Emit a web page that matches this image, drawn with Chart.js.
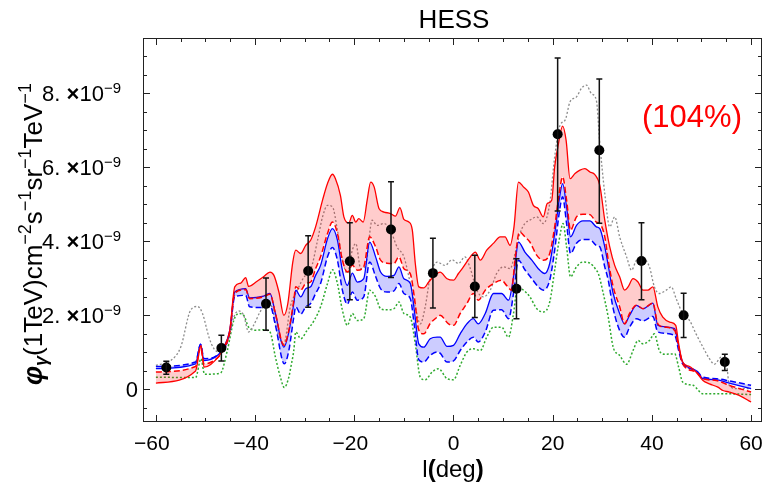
<!DOCTYPE html>
<html>
<head>
<meta charset="utf-8">
<script src="https://cdn.jsdelivr.net/npm/chart.js@4.4.1/dist/chart.umd.min.js"></script>
<style>
  html, body { margin: 0; padding: 0; background: #fff; }
  #wrap { width: 770px; height: 491px; }
</style>
</head>
<body>
<div id="wrap"><canvas id="chartHess" width="770" height="491"></canvas></div>
<script>
// longitude l (deg), flux in units of 1e-9
const redSolid = [[-60,0.17],[-52,0.5],[-50.9,1.19],[-50.3,0.6],[-47.3,0.9],[-46.3,1.14],[-45.1,1.6],[-44.1,2.77],[-42.9,2.87],[-41.9,3.02],[-41.3,2.78],[-39.6,2.92],[-38.3,3.04],[-37.0,3.17],[-36.2,3.08],[-35.2,2.63],[-34.2,2.0],[-33.4,2.32],[-32.4,3.44],[-31.8,3.76],[-30.8,3.67],[-29.8,3.89],[-28.8,4.03],[-27.8,4.39],[-26.4,5.11],[-25.4,5.56],[-24.4,5.81],[-23.8,5.69],[-22.8,5.24],[-22.1,4.66],[-21.1,4.5],[-20.4,4.7],[-19.7,4.52],[-19.1,4.61],[-18.2,4.52],[-17.4,5.11],[-16.7,5.6],[-16.0,5.47],[-15.0,4.88],[-14.0,4.79],[-12.7,4.75],[-11.7,4.68],[-10.8,4.91],[-10.0,4.59],[-9.0,4.52],[-8.3,4.3],[-7.7,3.4],[-7.0,2.77],[-6.0,2.74],[-5.0,2.9],[-4.0,3.05],[-2.7,3.17],[-1.3,2.99],[0,2.95],[1.0,3.13],[2.0,3.31],[3.4,3.58],[4.4,3.71],[5.4,3.49],[6.7,3.76],[8.1,3.95],[9.4,4.12],[10.4,4.12],[11.4,3.89],[12.2,4.39],[13.1,5.6],[14.1,5.47],[15.1,5.33],[16.1,4.97],[17.1,4.88],[18.1,4.66],[18.9,5.02],[19.8,5.11],[20.4,6.01],[21.1,6.59],[22.0,7.11],[22.7,6.73],[23.5,5.69],[24.5,5.83],[25.5,5.92],[26.5,5.96],[27.5,5.87],[28.5,5.8],[29.5,5.51],[30.5,4.57],[31.5,3.85],[32.5,3.35],[33.5,3.04],[34.5,2.68],[35.2,2.77],[36.2,2.99],[37.2,2.9],[38.2,2.68],[39.2,2.68],[40.2,2.77],[41.2,2.23],[42.2,1.95],[43.6,1.82],[44.8,1.73],[45.4,1.23],[46.2,0.74],[47.6,0.62],[48.9,0.47],[50.3,0.24],[51.6,0.15],[53.3,0.06],[54.3,-0.03],[55.6,-0.07],[57.6,-0.16],[60,-0.34]];

const redDashed = [[-60,0.47],[-52,0.62],[-51,1.14],[-50.3,0.69],[-47.3,0.89],[-46.3,1.1],[-45.1,1.55],[-44.1,2.6],[-41.9,2.69],[-41.1,2.45],[-38.3,2.5],[-37.0,2.57],[-35.9,2.05],[-34.2,1.19],[-33.2,1.6],[-32.2,2.4],[-31.8,2.77],[-30.8,2.68],[-29.8,2.86],[-28.8,2.9],[-27.8,3.26],[-26.8,3.58],[-25.4,4.21],[-24.4,4.52],[-23.4,4.21],[-22.4,3.49],[-21.4,3.17],[-20.4,3.35],[-19.4,3.22],[-18.1,3.31],[-16.9,4.12],[-15.7,3.85],[-14.7,3.49],[-13.4,3.41],[-12.0,3.4],[-11.0,3.58],[-10.0,3.26],[-8.7,3.12],[-7.9,2.5],[-7.0,1.6],[-6.0,1.5],[-4.7,1.78],[-3.3,1.95],[-2.7,2.0],[-1.0,1.77],[0,1.73],[1.35,2.05],[2.7,2.32],[4.0,2.59],[5.0,2.41],[6.4,2.68],[8.05,2.86],[9.7,2.95],[10.7,2.81],[11.7,2.68],[12.4,3.49],[13.3,4.25],[14.4,4.12],[15.4,3.98],[16.8,3.62],[18.1,3.49],[19.4,3.67],[20.4,4.39],[21.3,5.29],[22.0,5.74],[22.8,5.11],[23.6,4.3],[24.8,4.66],[26.1,4.73],[27.5,4.72],[28.8,4.52],[29.5,4.48],[30.5,4.12],[31.2,3.49],[32.2,2.77],[33.5,2.23],[34.5,1.77],[35.5,2.05],[36.9,2.27],[38.2,2.18],[40.2,2.33],[41.2,1.77],[42.6,1.68],[44.6,1.59],[45.4,1.14],[46.2,0.69],[48.9,0.47],[50.3,0.29],[53.0,0.24],[55.6,0.11],[60,-0.07]];

const blueSolid = [[-60,0.56],[-52,0.69],[-51,1.22],[-50.3,0.78],[-47.3,0.95],[-46.3,1.14],[-45.1,1.6],[-44.1,2.63],[-41.9,2.72],[-41.1,2.47],[-38.3,2.52],[-37.0,2.59],[-35.9,2.05],[-34.2,1.14],[-33.2,1.55],[-32.2,2.32],[-31.8,2.68],[-30.8,2.5],[-29.8,2.72],[-28.8,2.77],[-27.8,3.08],[-26.8,3.35],[-25.4,4.07],[-24.4,4.34],[-23.4,4.03],[-22.4,3.22],[-21.4,2.81],[-20.4,3.14],[-19.4,2.9],[-18.1,2.99],[-16.9,3.98],[-15.7,3.58],[-14.7,3.17],[-13.4,3.05],[-12.0,3.08],[-11.0,3.31],[-10.0,2.99],[-8.7,2.86],[-7.9,2.14],[-7.0,1.23],[-6.0,1.14],[-4.7,1.37],[-3.3,1.41],[-2.7,1.41],[-1.3,1.16],[0,1.19],[1.35,1.5],[2.7,1.77],[4.0,1.91],[5.0,1.77],[6.4,2.05],[8.05,2.59],[9.7,2.59],[11.1,2.41],[12.2,3.13],[13.1,3.98],[14.4,3.71],[15.8,3.49],[17.1,3.26],[18.4,3.13],[19.4,3.4],[20.4,4.21],[21.3,5.11],[22.0,5.56],[22.8,4.93],[23.6,4.12],[24.8,4.43],[26.1,4.55],[27.5,4.55],[28.8,4.39],[29.5,4.34],[30.5,3.85],[31.2,3.35],[32.2,2.59],[33.5,2.05],[34.5,1.77],[35.5,2.0],[36.9,2.27],[38.2,2.18],[40.2,2.33],[41.2,1.73],[44.6,1.64],[45.4,1.14],[46.2,0.74],[48.9,0.51],[50.3,0.29],[53.0,0.26],[55.6,0.17],[60,0.02]];

const blueDashed = [[-60,0.62],[-52,0.74],[-51,1.22],[-50.3,0.83],[-47.3,0.96],[-45.1,1.55],[-44.1,2.51],[-41.9,2.54],[-41.1,2.23],[-38.3,2.21],[-37.0,2.27],[-35.9,1.73],[-34.1,0.69],[-33.2,1.05],[-32.2,1.95],[-31.8,2.23],[-30.8,2.03],[-29.8,2.23],[-28.8,2.32],[-27.8,2.59],[-26.8,2.86],[-25.4,3.58],[-24.4,3.83],[-23.4,3.49],[-22.4,2.68],[-21.4,2.3],[-20.4,2.63],[-19.4,2.41],[-18.1,2.5],[-16.9,3.44],[-15.7,3.05],[-14.7,2.72],[-13.4,2.63],[-12.0,2.66],[-11.0,2.86],[-10.0,2.59],[-8.7,2.45],[-7.9,1.73],[-7.0,0.8],[-6.0,0.74],[-4.7,0.92],[-3.3,1.01],[-2.7,0.98],[-1.3,0.74],[0,0.77],[1.35,1.05],[2.7,1.28],[4.0,1.41],[5.0,1.28],[6.4,1.55],[8.05,2.14],[9.7,2.15],[11.1,1.91],[12.2,2.68],[13.1,3.49],[14.4,3.23],[15.8,2.99],[17.1,2.77],[18.1,2.68],[19.4,2.95],[20.4,3.76],[21.3,4.75],[22.0,5.2],[22.8,4.48],[23.6,3.67],[24.8,3.95],[26.1,4.05],[27.5,4.05],[28.8,3.89],[29.5,3.85],[30.5,3.31],[31.2,2.95],[32.2,2.18],[33.5,1.59],[34.5,1.41],[35.5,1.68],[36.9,1.91],[38.2,1.85],[40.2,1.97],[41.2,1.55],[44.6,1.46],[45.4,1.05],[46.2,0.69],[48.9,0.51],[50.3,0.33],[53.0,0.29],[55.6,0.23],[60,0.11]];

const grayDotted = [[-60,0.65],[-57,0.78],[-55,1.14],[-53,2.14],[-51.6,2.24],[-50.6,2.05],[-49.3,1.41],[-48.3,1.1],[-47,1.01],[-45.6,1.23],[-44.3,1.95],[-43.3,2.12],[-42.3,2.0],[-41.3,1.55],[-40.3,1.73],[-39,2.09],[-37.7,2.32],[-36.6,2.23],[-35.6,1.6],[-34.2,1.23],[-32.9,2.23],[-31.5,2.68],[-30.1,3.04],[-28.8,3.22],[-27.4,4.03],[-26.4,4.66],[-25.4,4.97],[-24.4,4.93],[-23.4,4.3],[-22.4,3.49],[-21.4,3.13],[-20.4,3.76],[-19.7,3.94],[-18.7,3.26],[-17.7,3.35],[-16.4,4.57],[-15.4,4.43],[-14.0,4.48],[-12.7,4.3],[-11.4,3.85],[-10.0,3.58],[-8.7,2.86],[-7.7,2.23],[-6.7,1.77],[-5.7,2.23],[-4.7,3.04],[-3.3,3.44],[-1.7,3.35],[-0.3,3.5],[1.0,3.4],[2.3,3.58],[3.4,3.26],[4.7,2.68],[6.0,2.5],[7.4,2.68],[8.7,3.13],[10.1,3.31],[11.4,3.26],[12.4,3.67],[13.4,4.21],[14.4,4.48],[15.4,4.57],[16.8,4.66],[18.1,4.48],[19.4,5.02],[20.4,6.28],[21.5,7.14],[22.5,7.27],[23.5,7.77],[24.8,7.9],[25.8,8.13],[26.8,8.22],[27.8,7.99],[28.8,7.81],[29.5,6.64],[30.5,5.29],[31.5,4.39],[32.5,4.66],[33.5,4.12],[34.9,3.58],[35.9,3.22],[36.9,3.49],[38.2,3.53],[39.5,3.31],[40.5,2.77],[41.5,2.59],[42.9,2.68],[43.9,2.77],[44.9,2.45],[46.2,2.05],[47.6,1.86],[48.9,1.5],[50.3,1.14],[51.6,0.83],[52.6,0.68],[54.0,0.87],[55.0,0.74],[55.6,0.11],[57.0,0.02],[60,0.02]];

const greenDotted = [[-60,0.33],[-52,0.32],[-50.9,0.83],[-50.2,0.41],[-47.0,0.44],[-45.6,1.05],[-44.3,1.86],[-43.3,2.05],[-42.3,2.0],[-41.3,1.68],[-39.9,1.6],[-38.3,1.61],[-37.0,1.55],[-35.9,0.87],[-34.9,0.33],[-34.1,0.05],[-33.2,0.33],[-32.8,0.6],[-32.2,1.05],[-31.8,1.55],[-30.8,1.37],[-29.5,1.6],[-28.1,1.86],[-26.8,2.23],[-25.4,2.86],[-24.4,3.23],[-23.4,2.86],[-22.4,2.14],[-21.4,1.73],[-20.4,2.05],[-19.4,1.86],[-18.1,1.91],[-16.9,2.68],[-15.7,2.5],[-14.7,2.18],[-13.4,2.15],[-12.0,2.18],[-11.0,2.36],[-10.0,2.05],[-8.7,1.95],[-7.7,1.23],[-6.7,0.33],[-5.7,0.26],[-4.3,0.47],[-3.0,0.56],[-1.3,0.29],[0,0.26],[1.35,0.65],[2.7,1.01],[4.0,1.1],[5.4,1.05],[6.7,1.41],[8.05,1.68],[9.7,1.68],[11.1,1.41],[12.1,2.05],[12.9,2.77],[14.1,2.68],[15.4,2.5],[16.8,2.18],[18.1,2.09],[19.4,2.36],[20.4,3.22],[21.3,4.03],[22.1,4.48],[22.8,3.85],[23.6,3.04],[24.8,3.31],[26.1,3.44],[27.5,3.41],[28.8,3.22],[29.2,3.13],[30.2,2.59],[31.2,1.95],[32.2,1.14],[33.5,0.92],[34.9,0.68],[36.2,1.05],[37.2,1.32],[38.2,1.23],[39.5,1.32],[40.5,1.5],[41.5,1.05],[42.6,0.95],[44.6,0.96],[45.4,0.6],[46.2,0.2],[48.3,0.11],[50.3,-0.12],[53.0,-0.12],[55.6,-0.12],[60,-0.14]];

// HESS points with error bars
const pointsL = [-57.9, -46.8, -37.8, -29.3, -20.9, -12.6, -4.15, 4.3, 12.7, 21.0, 29.4, 37.9, 46.4, 54.7];
const pointsFlux = [0.59, 1.12, 2.31, 3.2, 3.46, 4.32, 3.14, 2.78, 2.72, 6.89, 6.46, 3.47, 2.0, 0.74];
const errHigh = [0.76, 1.46, 3.01, 4.15, 4.5, 5.61, 4.08, 3.62, 3.53, 8.95, 8.38, 4.5, 2.6, 0.95];
const errLow = [0.41, 0.77, 1.6, 2.22, 2.42, 3.02, 2.2, 1.94, 1.91, 4.82, 4.49, 2.42, 1.4, 0.51];

// axes
const xTickLabels = [-60, -40, -20, 0, 20, 40, 60];
const yTickLabels = [0, 2, 4, 6, 8];

const FONT = "'Liberation Sans', Arial, sans-serif";

function xy(arr) {
    return arr.map(p => ({ x: p[0], y: p[1] }));
}

// texte en plusieurs morceaux (exposants, gras...)
function drawRuns(ctx, runs, x, y, align) {
    let total = 0;
    runs.forEach(r => { ctx.font = r.font; r.w = ctx.measureText(r.t).width; total += r.w; });
    let cx = align === 'right' ? x - total : (align === 'center' ? x - total / 2 : x);
    ctx.textAlign = 'left';
    ctx.textBaseline = 'alphabetic';
    runs.forEach(r => {
        ctx.font = r.font;
        ctx.fillText(r.t, cx, y - (r.dy || 0));
        cx += r.w;
    });
}

// barres d'erreur
const errorBars = {
    id: 'errorBars',
    afterDatasetsDraw(chart) {
        const ctx = chart.ctx, xs = chart.scales.x, ys = chart.scales.y;
        ctx.save();
        ctx.strokeStyle = '#111';
        ctx.lineWidth = 1.5;
        pointsL.forEach((l, i) => {
            const px = xs.getPixelForValue(l);
            const top = ys.getPixelForValue(errHigh[i]);
            const bot = ys.getPixelForValue(errLow[i]);
            ctx.beginPath();
            ctx.moveTo(px, top); ctx.lineTo(px, bot);
            ctx.moveTo(px - 3, top); ctx.lineTo(px + 3, top);
            ctx.moveTo(px - 3, bot); ctx.lineTo(px + 3, bot);
            ctx.stroke();
        });
        ctx.restore();
    }
};

// cadre, graduations et textes
const frameAndText = {
    id: 'frameAndText',
    afterDraw(chart) {
        const ctx = chart.ctx, a = chart.chartArea;
        const xs = chart.scales.x, ys = chart.scales.y;
        ctx.save();
        ctx.strokeStyle = '#222';
        ctx.lineWidth = 1;
        ctx.strokeRect(a.left + 0.5, a.top + 0.5, a.right - a.left - 1, a.bottom - a.top - 1);

        ctx.beginPath();
        for (let v = -60; v <= 60; v += 5) {
            const px = Math.round(xs.getPixelForValue(v)) + 0.5;
            const len = v % 20 === 0 ? 7 : 4;
            ctx.moveTo(px, a.bottom); ctx.lineTo(px, a.bottom - len);
            ctx.moveTo(px, a.top); ctx.lineTo(px, a.top + len);
        }
        for (let k = -1; k <= 18; k++) {
            const v = k * 0.5;
            const py = Math.round(ys.getPixelForValue(v)) + 0.5;
            const len = k % 4 === 0 ? 7 : 4;
            ctx.moveTo(a.left, py); ctx.lineTo(a.left + len, py);
            ctx.moveTo(a.right, py); ctx.lineTo(a.right - len, py);
        }
        ctx.stroke();

        ctx.fillStyle = '#000';
        // x tick labels
        xTickLabels.forEach(v => {
            const px = xs.getPixelForValue(v);
            const txt = (v < 0 ? '\u2212' : '') + Math.abs(v);
            ctx.font = '21px ' + FONT;
            ctx.textAlign = 'center';
            ctx.textBaseline = 'alphabetic';
            ctx.fillText(txt, px - (v < 0 ? 4 : 0), 450);
        });
        // y tick labels
        yTickLabels.forEach(v => {
            const py = ys.getPixelForValue(v);
            if (v === 0) {
                drawRuns(ctx, [{ t: '0', font: '22px ' + FONT }], 138, py + 8, 'right');
            } else {
                drawRuns(ctx, [
                    { t: v + '. ', font: '22px ' + FONT },
                    { t: '\u00d7', font: 'bold 22px ' + FONT },
                    { t: '10', font: '22px ' + FONT },
                    { t: '\u22129', font: '15px ' + FONT, dy: 8 }
                ], 121, py + 8, 'right');
            }
        });

        // titre
        ctx.font = '26px ' + FONT;
        ctx.textAlign = 'center';
        ctx.textBaseline = 'middle';
        ctx.fillText('HESS', 454, 21);

        // titre axe x
        drawRuns(ctx, [
            { t: 'l', font: '24px ' + FONT },
            { t: '(', font: 'bold 24px ' + FONT },
            { t: 'deg', font: '24px ' + FONT },
            { t: ')', font: 'bold 24px ' + FONT }
        ], 453, 477, 'center');

        // titre axe y
        ctx.save();
        ctx.translate(42, 234);
        ctx.rotate(-Math.PI / 2);
        const big = '26px ' + FONT, sup = '18px ' + FONT;
        drawRuns(ctx, [
            { t: '\u03c6', font: 'italic bold 27px ' + FONT },
            { t: '\u03b3', font: 'italic bold 18px ' + FONT, dy: -5 },
            { t: '(1TeV)cm', font: big },
            { t: '\u22122', font: sup, dy: 11 },
            { t: 's', font: big },
            { t: '\u22121', font: sup, dy: 11 },
            { t: 'sr', font: big },
            { t: '\u22121', font: sup, dy: 11 },
            { t: 'TeV', font: big },
            { t: '\u22121', font: sup, dy: 11 }
        ], 0, 0, 'center');
        ctx.restore();

        // pourcentage
        ctx.fillStyle = '#ff0000';
        ctx.font = '31px ' + FONT;
        ctx.textAlign = 'center';
        ctx.textBaseline = 'middle';
        ctx.fillText('(104%)', 692, 118);
        ctx.restore();
    }
};

const lineBase = { pointRadius: 0, cubicInterpolationMode: 'monotone', borderCapStyle: 'butt' };

new Chart(document.getElementById('chartHess').getContext('2d'), {
    type: 'line',
    data: {
        datasets: [
            {
                label: 'HESS',
                data: pointsL.map((l, i) => ({ x: l, y: pointsFlux[i] })),
                showLine: false,
                pointRadius: 5,
                pointBackgroundColor: '#000',
                pointBorderColor: '#000',
                pointBorderWidth: 0
            },
            Object.assign({}, lineBase, {
                label: 'rouge',
                data: xy(redSolid),
                borderColor: '#ff0000',
                borderWidth: 1.3,
                fill: '+1',
                backgroundColor: 'rgba(255, 0, 0, 0.2)'
            }),
            Object.assign({}, lineBase, {
                label: 'rouge tirets',
                data: xy(redDashed),
                borderColor: '#ff0000',
                borderWidth: 1.5,
                borderDash: [6, 3],
                fill: false
            }),
            Object.assign({}, lineBase, {
                label: 'bleu',
                data: xy(blueSolid),
                borderColor: '#0000ff',
                borderWidth: 1.3,
                fill: '+1',
                backgroundColor: 'rgba(0, 0, 255, 0.2)'
            }),
            Object.assign({}, lineBase, {
                label: 'bleu tirets',
                data: xy(blueDashed),
                borderColor: '#0000ff',
                borderWidth: 1.5,
                borderDash: [6, 3],
                fill: false
            }),
            Object.assign({}, lineBase, {
                label: 'gris',
                data: xy(grayDotted),
                borderColor: '#8c8c8c',
                borderWidth: 1.3,
                borderDash: [2, 2],
                fill: false
            }),
            Object.assign({}, lineBase, {
                label: 'vert',
                data: xy(greenDotted),
                borderColor: '#2faa2f',
                borderWidth: 1.5,
                borderDash: [2, 2],
                fill: false
            })
        ]
    },
    options: {
        responsive: false,
        animation: false,
        devicePixelRatio: 1,
        layout: { padding: { top: 38, right: 8, left: 0, bottom: 0 } },
        plugins: {
            legend: { display: false },
            tooltip: { enabled: false },
            title: { display: false }
        },
        scales: {
            x: {
                type: 'linear',
                min: -62.6,
                max: 62.2,
                grid: { display: false },
                border: { display: false },
                ticks: { display: false },
                afterFit(s) { s.height = 69; }
            },
            y: {
                min: -0.88,
                max: 9.49,
                grid: { display: false },
                border: { display: false },
                ticks: { display: false },
                afterFit(s) { s.width = 143; }
            }
        }
    },
    plugins: [errorBars, frameAndText]
});
</script>
</body>
</html>
